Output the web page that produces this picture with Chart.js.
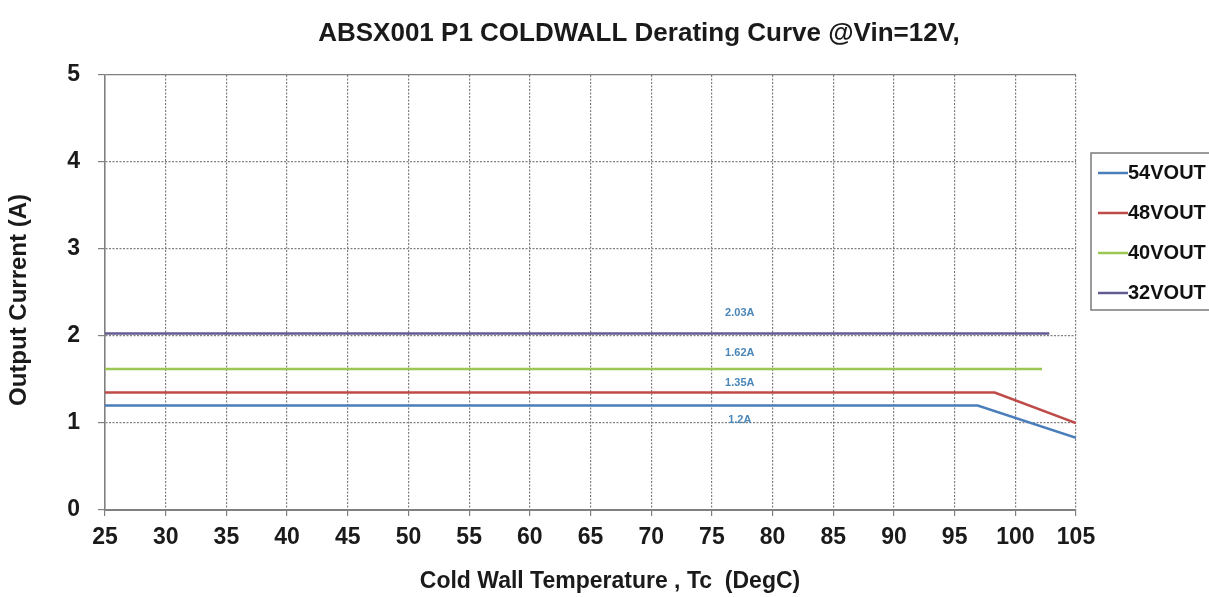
<!DOCTYPE html>
<html>
<head>
<meta charset="utf-8">
<script src="https://cdn.jsdelivr.net/npm/chart.js@4.4.1/dist/chart.umd.min.js"></script>
<style>
html,body{margin:0;padding:0;background:#fff;}
#wrap{position:relative;width:1209px;height:597px;}
</style>
</head>
<body>
<div id="wrap"><canvas id="c" width="1209" height="597"></canvas></div>
<script>
// ---- data ----
const chartTitle = 'ABSX001 P1 COLDWALL Derating Curve @Vin=12V,';
const xTitle = 'Cold Wall Temperature , Tc  (DegC)';
const yTitle = 'Output Current (A)';
const seriesNames = ['54VOUT', '48VOUT', '40VOUT', '32VOUT'];
const seriesColors = ['#4a7ebb', '#be4b48', '#9bc755', '#625c92'];
const temp54 = [25, 96.9, 105];
const curr54 = [1.2, 1.2, 0.83];
const temp48 = [25, 98.3, 105];
const curr48 = [1.35, 1.35, 1.0];
const temp40 = [25, 102.2];
const curr40 = [1.62, 1.62];
const temp32 = [25, 102.8];
const curr32 = [2.03, 2.03];
const noteTexts = ['2.03A', '1.62A', '1.35A', '1.2A'];
const noteX = [77.3, 77.3, 77.3, 77.3];
const noteY = [2.26, 1.80, 1.46, 1.03];
const xMin = 25, xMax = 105, xStep = 5;
const yMin = 0, yMax = 5, yStep = 1;

const temps = [temp54, temp48, temp40, temp32];
const currs = [curr54, curr48, curr40, curr32];

const datasets = seriesNames.map((name, i) => ({
  label: name,
  data: temps[i].map((t, j) => ({x: t, y: currs[i][j]})),
  borderColor: seriesColors[i],
  backgroundColor: seriesColors[i],
  borderWidth: 2.5,
  pointRadius: 0,
  tension: 0,
  fill: false
}));

const FONT = '"Liberation Sans", Arial, sans-serif';

const decorPlugin = {
  id: 'decor',
  afterDraw(chart) {
    const ctx = chart.ctx;
    const xs = chart.scales.x, ys = chart.scales.y;
    const area = chart.chartArea;
    ctx.save();
    ctx.fillStyle = '#1a1a1a';
    ctx.textAlign = 'center';
    ctx.textBaseline = 'middle';
    // chart title
    ctx.font = 'bold 26px ' + FONT;
    ctx.fillText(chartTitle, 639, 34);
    // x axis title
    ctx.font = 'bold 23px ' + FONT;
    ctx.fillText(xTitle, 610, 582);
    // y axis title
    ctx.save();
    ctx.translate(19, 300);
    ctx.rotate(-Math.PI / 2);
    ctx.font = 'bold 24px ' + FONT;
    ctx.fillText(yTitle, 0, 0);
    ctx.restore();
    // notes
    ctx.fillStyle = '#4a86b8';
    ctx.font = 'bold 11px ' + FONT;
    noteTexts.forEach((t, i) => {
      ctx.fillText(t, xs.getPixelForValue(noteX[i]), ys.getPixelForValue(noteY[i]));
    });
    // legend
    const lx = area.right + 15, ly = 153, lw = 140, lh = 157;
    ctx.strokeStyle = '#7a7a7a';
    ctx.lineWidth = 1.5;
    ctx.strokeRect(lx, ly, lw, lh);
    ctx.font = 'bold 20px ' + FONT;
    ctx.textAlign = 'left';
    ctx.textBaseline = 'middle';
    seriesNames.forEach((n, i) => {
      const yy = ly + 20 + i * 40;
      ctx.strokeStyle = seriesColors[i];
      ctx.lineWidth = 2.5;
      ctx.beginPath();
      ctx.moveTo(lx + 7, yy);
      ctx.lineTo(lx + 37, yy);
      ctx.stroke();
      ctx.fillStyle = '#111';
      ctx.fillText(n, lx + 37, yy);
    });
    ctx.restore();
  }
};

new Chart(document.getElementById('c'), {
  type: 'line',
  data: { datasets },
  plugins: [decorPlugin],
  options: {
    responsive: false,
    animation: false,
    devicePixelRatio: 1,
    layout: { padding: { top: 75, right: 133, left: 0, bottom: 0 } },
    plugins: { legend: { display: false }, title: { display: false }, tooltip: { enabled: false } },
    scales: {
      x: {
        type: 'linear',
        min: xMin, max: xMax,
        afterFit(s) { s.height = 87; },
        ticks: { stepSize: xStep, color: '#1a1a1a', font: { family: FONT, size: 23, weight: 'bold' }, padding: 8, maxRotation: 0 },
        grid: { color: '#808080', lineWidth: 1.2, tickLength: 6, tickColor: '#808080' },
        border: { color: '#808080', width: 2, dash: (c) => (c.tick && (c.tick.value === xMin)) ? [] : [2, 1.5] },
        title: { display: false }
      },
      y: {
        type: 'linear',
        min: yMin, max: yMax,
        afterFit(s) { s.width = 105; },
        ticks: { stepSize: yStep, color: '#1a1a1a', font: { family: FONT, size: 23, weight: 'bold' }, padding: 18 },
        grid: { color: '#808080', lineWidth: 1.2, tickLength: 7, tickColor: '#808080' },
        border: { color: '#808080', width: 1.5, dash: (c) => (c.tick && (c.tick.value === yMax || c.tick.value === yMin)) ? [] : [2, 1.5] },
        title: { display: false }
      }
    }
  }
});
</script>
</body>
</html>
